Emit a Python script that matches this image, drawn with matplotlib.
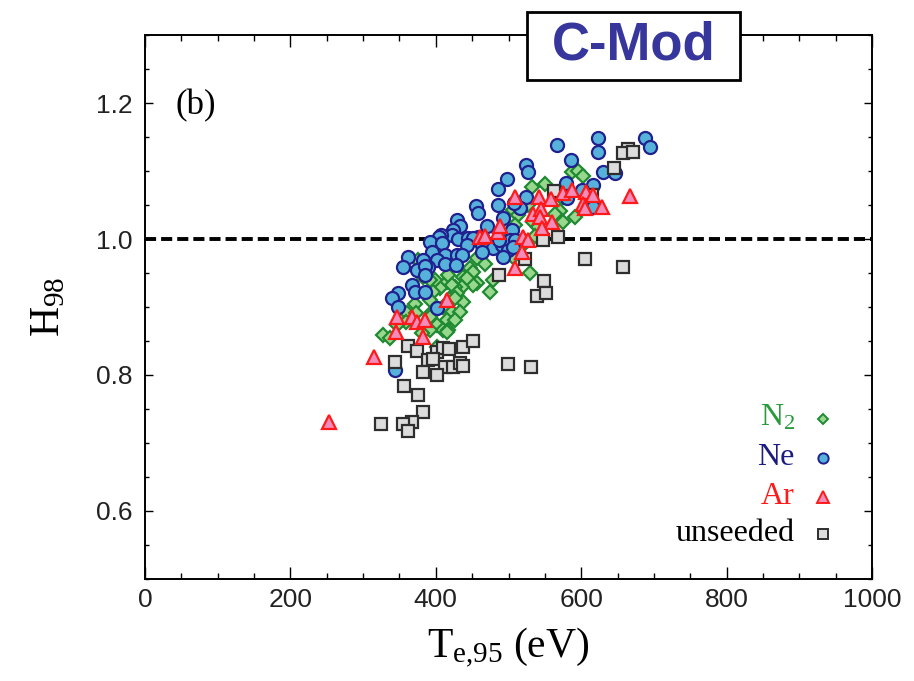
import matplotlib
matplotlib.use("Agg")
import matplotlib.pyplot as plt
from matplotlib.ticker import MultipleLocator, FormatStrFormatter
from matplotlib.patches import Rectangle

plt.rcParams['mathtext.fontset'] = 'custom'
plt.rcParams['mathtext.rm'] = 'Liberation Serif'
plt.rcParams['mathtext.it'] = 'Liberation Serif:italic'
plt.rcParams['lines.scale_dashes'] = False

# ---- data: pedestal temperature Te,95 (eV) vs confinement factor H98 ----
n2_te = [587, 596, 602, 550, 532, 574, 527, 506, 513, 571, 564, 591, 575, 534,
         541, 509, 498, 536, 520, 509, 498, 506, 530, 479, 475, 468, 457, 447,
         451, 437, 457, 451, 436, 424, 437, 443, 426, 415, 406, 399, 392, 382,
         382, 375, 396, 417, 422, 429, 426, 392, 410, 422, 433, 371, 360, 373,
         395, 392, 402, 415, 426, 410, 417, 392, 381, 359, 347, 327, 337, 402,
         415]
n2_h = [1.099, 1.100, 1.093, 1.081, 1.077, 1.061, 1.050, 1.043, 1.035, 1.041,
        1.037, 1.033, 1.025, 1.025, 1.018, 1.021, 1.013, 1.004, 0.991, 0.991,
        0.987, 0.974, 0.950, 0.940, 0.922, 0.963, 0.972, 0.957, 0.952, 0.944,
        0.935, 0.932, 0.929, 0.918, 0.907, 0.943, 0.929, 0.937, 0.928, 0.940,
        0.940, 0.962, 0.944, 0.969, 0.922, 0.947, 0.932, 0.921, 0.913, 0.910,
        0.900, 0.893, 0.893, 0.904, 0.891, 0.891, 0.893, 0.885, 0.873, 0.881,
        0.881, 0.866, 0.866, 0.866, 0.862, 0.878, 0.873, 0.859, 0.854, 0.841,
        0.863]

ne_te = [688, 695, 623, 623, 567, 586, 630, 646, 579, 616, 601, 580, 616, 524,
         527, 498, 486, 524, 486, 516, 508, 455, 458, 429, 433, 470, 492, 505,
         424, 422, 407, 404, 392, 409, 431, 444, 458, 464, 451, 443, 464, 479,
         491, 499, 502, 487, 509, 395, 413, 429, 436, 464, 492, 506, 402, 382,
         389, 362, 355, 374, 385, 413, 428, 385, 367, 371, 385, 348, 340, 348,
         402, 344]
ne_h = [1.149, 1.136, 1.149, 1.128, 1.139, 1.117, 1.099, 1.097, 1.083, 1.080,
        1.072, 1.061, 1.047, 1.109, 1.099, 1.089, 1.074, 1.062, 1.050, 1.046,
        1.053, 1.049, 1.038, 1.028, 1.019, 1.019, 1.031, 1.013, 1.013, 1.006,
        1.006, 1.003, 0.996, 0.994, 1.000, 1.002, 1.003, 1.003, 1.002, 0.991,
        0.991, 0.987, 0.991, 0.984, 0.999, 0.999, 0.999, 0.981, 0.977, 0.977,
        0.977, 0.981, 0.974, 0.988, 0.969, 0.969, 0.959, 0.974, 0.959, 0.954,
        0.960, 0.963, 0.962, 0.947, 0.932, 0.922, 0.922, 0.921, 0.913, 0.900,
        0.899, 0.807]

ar_te = [253, 315, 345, 347, 367, 374, 385, 382, 415, 461, 468, 486, 488, 520,
         527, 519, 509, 509, 542, 558, 575, 587, 534, 545, 543, 560, 546, 607,
         616, 602, 605, 629, 667]
ar_h = [0.731, 0.826, 0.863, 0.885, 0.885, 0.878, 0.881, 0.856, 0.910, 1.003,
        1.004, 1.010, 1.019, 1.003, 0.999, 0.981, 0.957, 1.062, 1.062, 1.059,
        1.068, 1.072, 1.037, 1.044, 1.033, 1.025, 1.016, 1.069, 1.065, 1.052,
        1.046, 1.047, 1.063]

un_te = [664, 658, 671, 645, 563, 615, 547, 568, 605, 658, 523, 487, 549, 539,
         552, 362, 374, 402, 410, 418, 437, 451, 344, 389, 396, 413, 424, 433,
         437, 382, 402, 499, 531, 356, 376, 382, 367, 355, 362, 325]
un_h = [1.133, 1.127, 1.128, 1.105, 1.071, 1.065, 0.999, 1.003, 0.971, 0.959,
        0.971, 0.947, 0.938, 0.916, 0.921, 0.843, 0.835, 0.834, 0.840, 0.838,
        0.841, 0.850, 0.819, 0.822, 0.823, 0.812, 0.812, 0.817, 0.813, 0.804,
        0.800, 0.816, 0.812, 0.784, 0.770, 0.745, 0.731, 0.728, 0.717, 0.728]

x_ticks = [0, 200, 400, 600, 800, 1000]
y_ticks = [0.6, 0.8, 1.0, 1.2]

series = [
    # label, x, y, marker, size, face, edge, text colour, legend size
    (r'N$_2$', n2_te, n2_h, 'D', 7.4, '#98d88e', '#1f8a32', '#2a9a3c', 5.6),
    ('Ne', ne_te, ne_h, 'o', 9.4, '#56b2da', '#20208e', '#1c1c80', 7.4),
    ('unseeded', un_te, un_h, 's', 8.6, '#dcdcdc', '#2e2e2e', '#000000', 6.8),
    ('Ar', ar_te, ar_h, '^', 10.2, '#f28cba', '#ff1a1a', '#ff1a1a', 8.0),
]

fig = plt.figure(figsize=(9.14, 6.81), dpi=100)
ax = fig.add_axes([0.1586, 0.1504, 0.7955, 0.7977])

ax.axhline(1.0, color='black', lw=2.8, dashes=(8.0, 3.6), zorder=2)

for i, (lab, xs, ys, mk, ms, fc, ec, tc, lms) in enumerate(series):
    ax.plot(xs, ys, linestyle='none', marker=mk, markersize=ms,
            markerfacecolor=fc, markeredgecolor=ec, markeredgewidth=1.6,
            zorder=3 + i)

ax.set_xlim(0, 1000)
ax.set_ylim(0.5, 1.3)
ax.set_xticks(x_ticks)
ax.set_yticks(y_ticks)
ax.xaxis.set_minor_locator(MultipleLocator(50))
ax.yaxis.set_minor_locator(MultipleLocator(0.05))
ax.yaxis.set_major_formatter(FormatStrFormatter('%.1f'))
ax.tick_params(which='both', direction='in', top=True, right=True,
               width=1.0, color='black')
ax.tick_params(axis='x', which='major', length=8.5, pad=7)
ax.tick_params(axis='x', which='minor', length=4.3)
ax.tick_params(axis='y', which='major', length=5.5, pad=9)
ax.tick_params(axis='y', which='minor', length=3.0)
for t in ax.get_xticklabels() + ax.get_yticklabels():
    t.set_fontfamily('Liberation Sans')
    t.set_fontsize(19)
    t.set_color('#222222')
for sp in ax.spines.values():
    sp.set_linewidth(1.4)

ax.set_xlabel(r'$\mathrm{T}_{\mathrm{e{,}95}}\ \mathrm{(eV)}$', fontsize=30,
              labelpad=10)
ax.set_ylabel(r'$\mathrm{H}_{98}$', fontsize=30, labelpad=20)

ax.text(42, 1.196, '(b)', fontsize=25, family='Liberation Serif',
        ha='left', va='center')

# legend: right-aligned coloured names with a marker to their right
leg_rows = [0, 1, 3, 2]
leg_y = [0.2938, 0.2220, 0.1502, 0.0821]
for row, yy in zip(leg_rows, leg_y):
    lab, xs, ys, mk, ms, fc, ec, tc, lms = series[row]
    ax.plot([0.9326], [yy], transform=ax.transAxes, linestyle='none',
            marker=mk, markersize=lms, markerfacecolor=fc,
            markeredgecolor=ec, markeredgewidth=1.4, zorder=10,
            clip_on=False)
    ax.text(0.894, yy - 0.0129, lab, transform=ax.transAxes, ha='right',
            va='baseline', fontsize=23, family='Liberation Serif', color=tc)

# machine name badge sitting over the top frame
badge = Rectangle((0.5766, 0.8825), 0.2330, 0.0999, transform=fig.transFigure,
                  facecolor='white', edgecolor='black', linewidth=2.0,
                  zorder=5)
fig.add_artist(badge)
fig.text(0.6931, 0.9325, 'C-Mod', ha='center', va='center',
         fontsize=38, fontweight='bold', family='Liberation Sans',
         color='#36369c', zorder=6)

fig.savefig('out.png', dpi=100)
